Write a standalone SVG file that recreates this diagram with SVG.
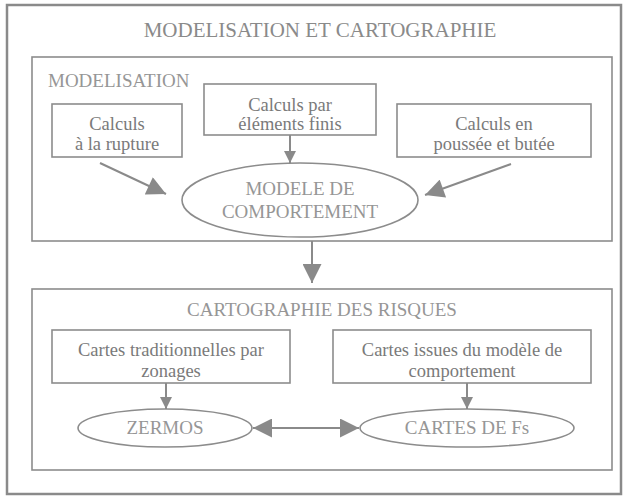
<svg xmlns="http://www.w3.org/2000/svg" width="628" height="498" viewBox="0 0 628 498">
  <style>
    text { font-family: "Liberation Serif", "Times New Roman", serif; }
    .frame { fill: none; stroke: #8a8a8a; stroke-width: 2.5; }
    .box { fill: #ffffff; stroke: #8c8c8c; stroke-width: 1.6; }
    .oval { fill: #ffffff; stroke: #8c8c8c; stroke-width: 1.6; }
    .head { font-size: 21px; fill: #8a8a8a; }
    .caps { font-size: 19px; fill: #969696; }
    .txt { font-size: 18.5px; fill: #7a7a7a; }
    .mid { text-anchor: middle; }
    .link { fill: none; stroke: #8a8a8a; stroke-width: 2; }
  </style>
  <defs>
    <marker id="arrowL" viewBox="0 0 10 10" refX="10" refY="5" markerWidth="20" markerHeight="19" markerUnits="userSpaceOnUse" orient="auto-start-reverse">
      <path d="M0,0 L10,5 L0,10 Z" fill="#8a8a8a"/>
    </marker>
    <marker id="arrowS" viewBox="0 0 10 10" refX="10" refY="5" markerWidth="14" markerHeight="12" markerUnits="userSpaceOnUse" orient="auto">
      <path d="M0,0 L10,5 L0,10 Z" fill="#8a8a8a"/>
    </marker>
  </defs>

  <rect width="628" height="498" fill="#ffffff"/>

  <!-- outer frame and title -->
  <g id="frame">
    <rect class="frame" x="7" y="5" width="614" height="489"/>
    <text class="head mid" x="320" y="37">MODELISATION ET CARTOGRAPHIE</text>
  </g>

  <!-- modelling section -->
  <g id="modelisation">
    <rect class="box" x="32" y="57" width="580" height="184"/>
    <text class="caps" x="48" y="87">MODELISATION</text>
  </g>

  <g id="calc-rupture">
    <rect class="box" x="52" y="104" width="130" height="53"/>
    <text class="txt mid" x="117" y="130">Calculs</text>
    <text class="txt mid" x="117" y="150">à la rupture</text>
  </g>

  <g id="calc-ef">
    <rect class="box" x="204" y="84" width="172" height="51"/>
    <text class="txt mid" x="290" y="111">Calculs par</text>
    <text class="txt mid" x="290" y="130">éléments finis</text>
  </g>

  <g id="calc-poussee">
    <rect class="box" x="397" y="104" width="194" height="53"/>
    <text class="txt mid" x="494" y="130">Calculs en</text>
    <text class="txt mid" x="494" y="150">poussée et butée</text>
  </g>

  <g id="modele">
    <ellipse class="oval" cx="300" cy="200" rx="118" ry="37"/>
    <text class="caps mid" x="300" y="195">MODELE DE</text>
    <text class="caps mid" x="300" y="218">COMPORTEMENT</text>
  </g>

  <!-- risk mapping section -->
  <g id="cartographie">
    <rect class="box" x="32" y="289" width="580" height="181"/>
    <text class="caps mid" x="322" y="316">CARTOGRAPHIE DES RISQUES</text>
  </g>

  <g id="cartes-trad">
    <rect class="box" x="52" y="330" width="238" height="53"/>
    <text class="txt mid" x="171" y="356">Cartes traditionnelles par</text>
    <text class="txt mid" x="171" y="377">zonages</text>
  </g>

  <g id="cartes-modele">
    <rect class="box" x="333" y="330" width="258" height="53"/>
    <text class="txt mid" x="462" y="356">Cartes issues du modèle de</text>
    <text class="txt mid" x="462" y="377">comportement</text>
  </g>

  <g id="zermos">
    <ellipse class="oval" cx="165" cy="428" rx="87" ry="19"/>
    <text class="caps mid" x="165" y="434">ZERMOS</text>
  </g>

  <g id="cartes-fs">
    <ellipse class="oval" cx="467" cy="428" rx="107" ry="19"/>
    <text class="caps mid" x="467" y="434">CARTES DE Fs</text>
  </g>

  <!-- connectors -->
  <g id="connectors">
    <line class="link" x1="290" y1="135" x2="290" y2="163" marker-end="url(#arrowS)"/>
    <line class="link" x1="100" y1="163" x2="166" y2="194" marker-end="url(#arrowL)"/>
    <line class="link" x1="511" y1="164" x2="425" y2="195" marker-end="url(#arrowL)"/>
    <line class="link" x1="312" y1="241" x2="312" y2="283" marker-end="url(#arrowL)"/>
    <line class="link" x1="166" y1="383" x2="166" y2="409" marker-end="url(#arrowS)"/>
    <line class="link" x1="467" y1="383" x2="467" y2="409" marker-end="url(#arrowS)"/>
    <line class="link" x1="253" y1="428" x2="359" y2="428" marker-start="url(#arrowL)" marker-end="url(#arrowL)"/>
  </g>
</svg>
